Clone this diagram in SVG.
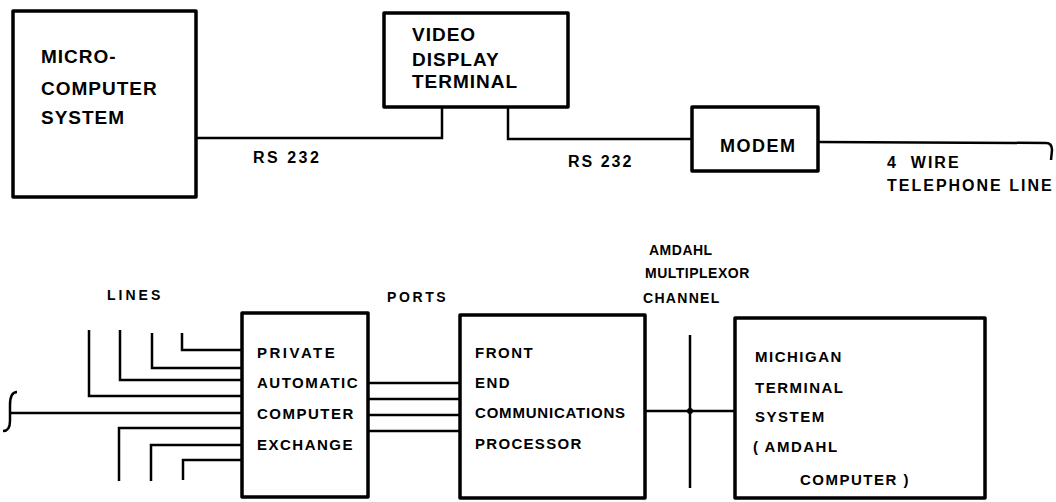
<svg xmlns="http://www.w3.org/2000/svg" width="1056" height="502" viewBox="0 0 1056 502">
<style>
.box{fill:#fff;stroke:#000;stroke-width:3.5;stroke-linejoin:round}
.ln{fill:none;stroke:#000;stroke-width:2.5;stroke-linejoin:miter}
text{font-family:"Liberation Sans",Arial,sans-serif;font-weight:bold;fill:#000}
.l{font-size:19px;letter-spacing:1px}
.m{font-size:15px;letter-spacing:1.5px}
.s{font-size:14px;letter-spacing:1px}
</style>
<rect width="1056" height="502" fill="#fff"/>
<g id="connectors">
<path class="ln" d="M196,138 L442,138 L442,107"/>
<path class="ln" d="M508,107 L508,139 L692,139"/>
<path class="ln" d="M818,142 L1046,143 C1050,143 1052,146 1052,150 L1051,160"/>
<path class="ln" d="M182,333 L182,350 L242,350"/>
<path class="ln" d="M152,333 L152,368 L242,368"/>
<path class="ln" d="M120,330 L120,380 L242,380"/>
<path class="ln" d="M89,330 L89,396 L242,396"/>
<path class="ln" d="M17,392 C11,392 10,398 10,405 L10,421 C10,428 7,431 3,431"/>
<path class="ln" d="M10,413 L242,413"/>
<path class="ln" d="M119,481 L119,428 L242,428"/>
<path class="ln" d="M151,481 L151,445 L242,445"/>
<path class="ln" d="M183,480 L183,460 L242,460"/>
<path class="ln" d="M368,383 L460,383 M368,399 L460,399 M368,415 L460,415 M368,431 L460,431"/>
<path class="ln" d="M645,411 L735,411"/>
<path class="ln" d="M690,335 L690,488"/>
<circle cx="690" cy="411" r="3"/>
</g>
<g id="micro">
<rect class="box" x="13" y="11" width="183" height="186"/>
<text class="l" x="41" y="63">MICRO-</text>
<text class="l" x="41" y="95">COMPUTER</text>
<text class="l" x="41" y="124">SYSTEM</text>
</g>
<g id="vdt">
<rect class="box" x="384" y="13" width="184" height="94"/>
<text class="l" x="412" y="41">VIDEO</text>
<text class="l" x="412" y="66">DISPLAY</text>
<text class="l" x="412" y="88">TERMINAL</text>
</g>
<g id="modem">
<rect class="box" x="692" y="107" width="126" height="64"/>
<text class="l" x="720" y="152" style="font-size:18px;letter-spacing:1.5px">MODEM</text>
</g>
<g id="labels">
<text x="253" y="163" style="font-size:16px;letter-spacing:2.5px">RS 232</text>
<text x="568" y="167" style="font-size:16px;letter-spacing:2px">RS 232</text>
<text x="887" y="168" style="font-size:16px;letter-spacing:2px" xml:space="preserve">4  WIRE</text>
<text x="887" y="191" style="font-size:16px;letter-spacing:2px">TELEPHONE LINE</text>
<text x="107" y="300" style="font-size:14px;letter-spacing:3px">LINES</text>
<text x="387" y="302" style="font-size:14px;letter-spacing:2.6px">PORTS</text>
<text x="649" y="255" style="font-size:14px;letter-spacing:0.5px">AMDAHL</text>
<text x="645" y="278" style="font-size:14px;letter-spacing:0.5px">MULTIPLEXOR</text>
<text x="643" y="303" style="font-size:14px;letter-spacing:1.3px">CHANNEL</text>
</g>
<g id="pacx">
<rect class="box" x="242" y="313" width="126" height="184"/>
<text class="m" x="257" y="358" style="letter-spacing:2.5px">PRIVATE</text>
<text class="m" x="257" y="388">AUTOMATIC</text>
<text class="m" x="257" y="419">COMPUTER</text>
<text class="m" x="257" y="450">EXCHANGE</text>
</g>
<g id="fecp">
<rect class="box" x="460" y="315" width="185" height="183"/>
<text class="m" x="475" y="358">FRONT</text>
<text class="m" x="475" y="388">END</text>
<text class="m" x="475" y="418" style="letter-spacing:0.8px">COMMUNICATIONS</text>
<text class="m" x="475" y="449" style="letter-spacing:1.3px">PROCESSOR</text>
</g>
<g id="mts">
<rect class="box" x="735" y="318" width="250" height="180"/>
<text class="m" x="755" y="362">MICHIGAN</text>
<text class="m" x="755" y="393">TERMINAL</text>
<text class="m" x="755" y="422">SYSTEM</text>
<text class="m" x="753" y="452">( AMDAHL</text>
<text class="m" x="800" y="485">COMPUTER )</text>
</g>
</svg>
